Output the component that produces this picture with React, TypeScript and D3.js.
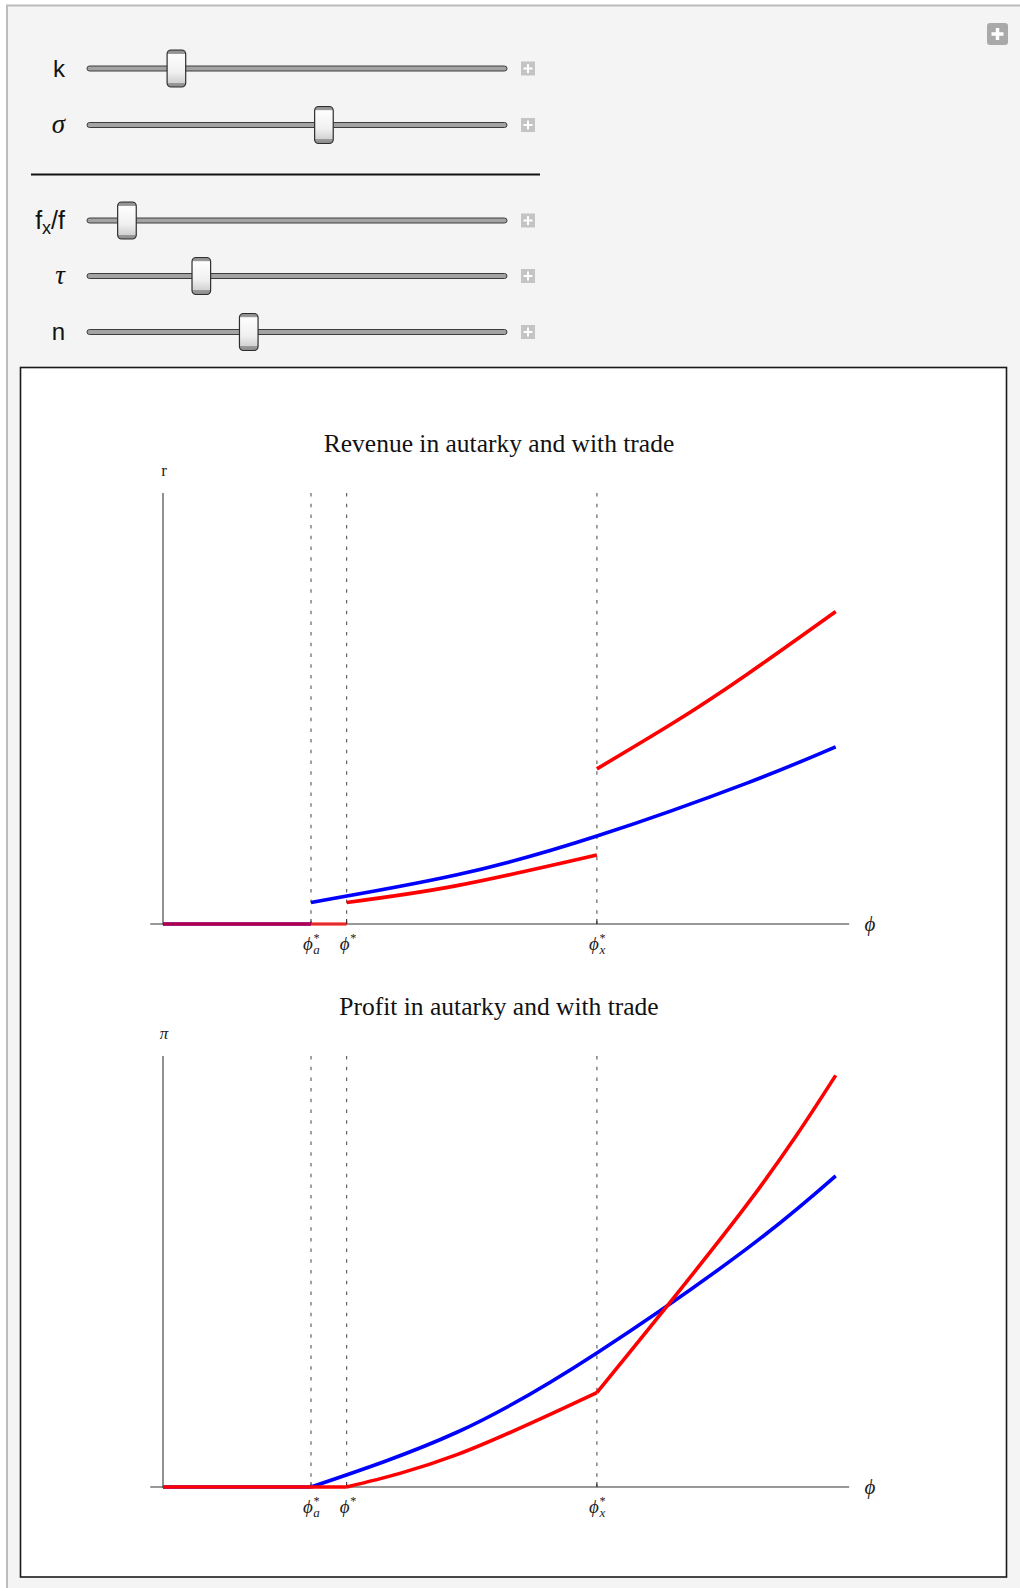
import React from 'react';
import * as d3 from 'd3';

// productivity cutoffs: phi*_a, phi*, phi*_x
const CUTOFFS = [0.22, 0.273, 0.645];
const CUTOFF_SUBS = ['a', '', 'x'];

// revenue, autarky (blue)
const revAutPhi = [0.22, 0.437, 0.645, 0.868, 1.0];
const revAutVal = [0.05, 0.114, 0.204, 0.327, 0.411];
// revenue with trade, domestic only (red, before phi*_x)
const revDomPhi = [0.273, 0.437, 0.645];
const revDomVal = [0.05, 0.089, 0.16];
// revenue with trade, exporters (red, after phi*_x)
const revExpPhi = [0.645, 0.76, 0.868, 1.0];
const revExpVal = [0.36, 0.468, 0.579, 0.725];

// profit, autarky (blue)
const profAutPhi = [0, 0.22, 0.437, 0.645, 0.868, 1.0];
const profAutVal = [0, 0, 0.127, 0.311, 0.553, 0.722];
// profit with trade (red)
const profTradePhi = [0, 0.273, 0.437, 0.645, 0.868, 1.0];
const profTradeVal = [0, 0, 0.075, 0.219, 0.655, 0.955];

const SLIDER_NAMES = ['k', 'σ', 'fx/f', 'τ', 'n'];
const SLIDER_VALUES = [0.2, 0.567, 0.077, 0.262, 0.38];

const BLUE = '#0000ff';
const RED = '#ff0000';
const SERIF = '"Liberation Serif", "Times New Roman", serif';
const SANS = '"Liberation Sans", Arial, sans-serif';

const x = d3.scaleLinear().domain([0, 1]).range([163, 835.7]);
const sliderX = d3.scaleLinear().domain([0, 1]).range([96, 498]);
const sliderRows = [68.5, 125, 220.5, 276, 332];

const zip = (xs: number[], ys: number[]) => xs.map((v, i) => [v, ys[i]] as [number, number]);

type Series = { pts: [number, number][]; color: string; opacity?: number; curve?: boolean };

const CutoffLabel = ({ cx, cy, sub }: { cx: number; cy: number; sub: string }) => (
  <g fontFamily={SERIF} fontStyle="italic" fill="#222">
    <text x={cx - (sub ? 3 : 2)} y={cy + 6} fontSize={19} textAnchor="middle">ϕ</text>
    <text x={cx + (sub ? 5 : 6)} y={cy - 2} fontSize={12} textAnchor="middle">*</text>
    {sub && <text x={cx + 5.5} y={cy + 10} fontSize={13} textAnchor="middle">{sub}</text>}
  </g>
);

const Plot = ({ zeroY, title, yLabel, series }: { zeroY: number; title: string; yLabel: string; series: Series[] }) => {
  const topY = zeroY - 431;
  const y = d3.scaleLinear().domain([0, 1]).range([zeroY, topY]);
  const smooth = d3.line<[number, number]>().x(d => x(d[0])).y(d => y(d[1])).curve(d3.curveNatural);
  const straight = d3.line<[number, number]>().x(d => x(d[0])).y(d => y(d[1]));
  return (
    <g>
      <text x={499} y={zeroY - 472} fontFamily={SERIF} fontSize={25.5} textAnchor="middle" fill="#111">{title}</text>
      <text x={164} y={zeroY - 448} fontFamily={SERIF} fontSize={17} fontStyle={yLabel === 'r' ? 'normal' : 'italic'} textAnchor="middle" fill="#222">{yLabel}</text>
      {/* axes */}
      <line x1={x(0)} x2={x(0)} y1={y(1)} y2={zeroY + 1} stroke="#222" strokeWidth={1} />
      <line x1={x(-0.019)} x2={x(1.02)} y1={zeroY} y2={zeroY} stroke="#333" strokeWidth={1.2} />
      <text x={870} y={zeroY + 7} fontFamily={SERIF} fontSize={21} fontStyle="italic" textAnchor="middle" fill="#222">ϕ</text>
      {CUTOFFS.map((c, i) => (
        <g key={i}>
          <line x1={x(c)} x2={x(c)} y1={y(1)} y2={zeroY} stroke="#555" strokeWidth={1.1} strokeDasharray="3.5,7.2" />
          <line x1={x(c)} x2={x(c)} y1={zeroY - 5} y2={zeroY} stroke="#222" strokeWidth={1} />
          <CutoffLabel cx={x(c)} cy={zeroY + 20} sub={CUTOFF_SUBS[i]} />
        </g>
      ))}
      {series.map((s, i) => (
        <path key={i} d={(s.curve === false ? straight : smooth)(s.pts) || ''} fill="none" stroke={s.color}
          strokeWidth={3.6} strokeOpacity={s.opacity ?? 1} strokeLinejoin="round" />
      ))}
    </g>
  );
};

const Slider = ({ label, value, cy }: { label: string; value: number; cy: number }) => {
  const greek = label === 'σ' || label === 'τ';
  const tx = sliderX(value);
  return (
    <g>
      {label === 'fx/f' ? (
        <text x={65} y={cy + 8} fontFamily={SANS} fontSize={25} textAnchor="end" fill="#111">
          f<tspan fontSize={18} dy={5}>x</tspan><tspan dy={-5}>/f</tspan>
        </text>
      ) : (
        <text x={65} y={cy + 8} fontFamily={greek ? SERIF : SANS} fontStyle={greek ? 'italic' : 'normal'}
          fontSize={greek ? 27 : 24} textAnchor="end" fill="#111">{label}</text>
      )}
      <rect x={87} y={cy - 2.5} width={420} height={5} rx={2.5} fill="#a3a3a3" stroke="#3c3c3c" strokeWidth={1} />
      <rect x={tx - 9.3} y={cy - 18.5} width={18.6} height={37} rx={4} fill="url(#thumbGrad)" stroke="#2e2e2e" strokeWidth={1.2} />
      <rect x={521} y={cy - 7} width={14} height={14} fill="#c4c4c4" />
      <path d={`M${528},${cy - 4.5}V${cy + 4.5}M${523.5},${cy}H${532.5}`} stroke="#fff" strokeWidth={2} />
    </g>
  );
};

export default function App() {
  const blueZero: [number, number][] = [[0, 0], [CUTOFFS[0], 0]];
  const redZero: [number, number][] = [[0, 0], [CUTOFFS[1], 0]];
  const revSeries: Series[] = [
    { pts: blueZero, color: BLUE, curve: false },
    { pts: zip(revAutPhi, revAutVal), color: BLUE },
    { pts: redZero, color: RED, opacity: 0.7, curve: false },
    { pts: zip(revDomPhi, revDomVal), color: RED },
    { pts: zip(revExpPhi, revExpVal), color: RED },
  ];
  const profSeries: Series[] = [
    { pts: zip(profAutPhi.slice(1), profAutVal.slice(1)), color: BLUE },
    { pts: zip(profAutPhi.slice(0, 2), profAutVal.slice(0, 2)), color: BLUE, curve: false },
    { pts: zip(profTradePhi.slice(1, 4), profTradeVal.slice(1, 4)), color: RED },
    { pts: zip(profTradePhi.slice(3), profTradeVal.slice(3)), color: RED },
    { pts: zip(profTradePhi.slice(0, 2), profTradeVal.slice(0, 2)), color: RED, curve: false },
  ];
  return (
    <div style={{ position: 'absolute', left: 0, top: 0 }}>
      <svg width={1020} height={1588} viewBox="0 0 1020 1588" style={{ display: 'block' }}>
        <defs>
          <linearGradient id="thumbGrad" x1="0" y1="0" x2="0" y2="1">
            <stop offset="0" stopColor="#8c8c8c" />
            <stop offset="0.1" stopColor="#9c9c9c" />
            <stop offset="0.11" stopColor="#fefefe" />
            <stop offset="0.6" stopColor="#f0f0f0" />
            <stop offset="0.88" stopColor="#d2d2d2" />
            <stop offset="0.89" stopColor="#9a9a9a" />
            <stop offset="1" stopColor="#8a8a8a" />
          </linearGradient>
        </defs>
        <rect x={0} y={0} width={1020} height={1588} fill="#fff" />
        <rect x={7} y={5.5} width={1030} height={1600} fill="#f4f4f4" stroke="#bcbcbc" strokeWidth={2} />
        <rect x={987} y={23} width={21} height={22} rx={3} fill="#a9a9a9" />
        <path d="M997.5,28V40M991.5,34H1003.5" stroke="#fff" strokeWidth={3.5} />
        {SLIDER_NAMES.map((n, i) => (
          <Slider key={n} label={n} value={SLIDER_VALUES[i]} cy={sliderRows[i]} />
        ))}
        <line x1={31} x2={540} y1={174.5} y2={174.5} stroke="#111" strokeWidth={1.8} />
        <rect x={20.5} y={367.5} width={986} height={1209.5} fill="#fff" stroke="#1a1a1a" strokeWidth={1.6} />
        <Plot zeroY={924} title="Revenue in autarky and with trade" yLabel="r" series={revSeries} />
        <Plot zeroY={1487} title="Profit in autarky and with trade" yLabel="π" series={profSeries} />
      </svg>
    </div>
  );
}
